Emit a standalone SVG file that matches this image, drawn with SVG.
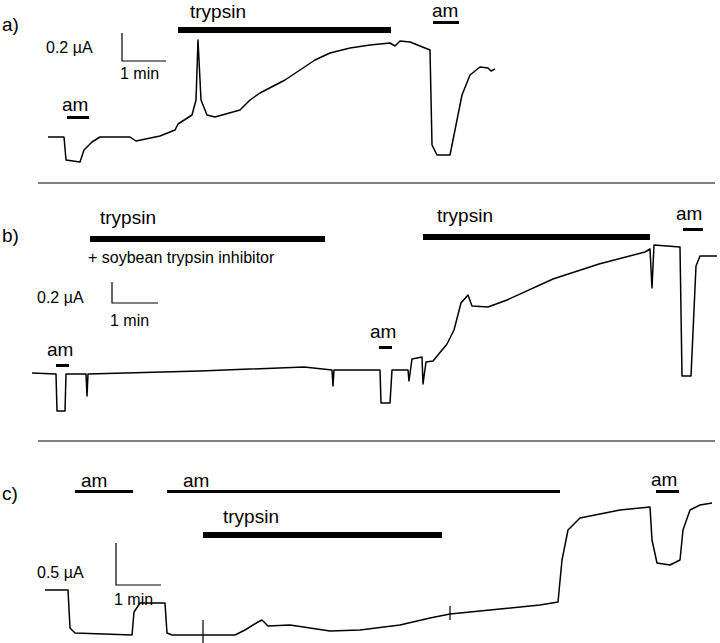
<svg xmlns="http://www.w3.org/2000/svg" width="720" height="643" viewBox="0 0 720 643">
<style>
text{font-family:"Liberation Sans",Arial,sans-serif;fill:#000}
.lab{font-size:19px}
.sc{font-size:16px}
.tr{fill:none;stroke:#000;stroke-width:1.5;stroke-linejoin:round}
.ln{stroke:#000;stroke-width:1.2}
</style>
<rect width="720" height="643" fill="#fff"/>
<g id="panel-a">
<text class="lab" x="2" y="31">a)</text>
<text class="lab" x="190" y="18">trypsin</text>
<rect x="178" y="27" width="213" height="6"/>
<text class="lab" x="432" y="17">am</text>
<rect x="433" y="21" width="26" height="3"/>
<text class="sc" x="46" y="53">0.2 µA</text>
<path class="ln" d="M122 33V61H166" fill="none"/>
<text class="sc" x="120" y="79">1 min</text>
<text class="lab" x="62" y="111">am</text>
<rect x="67" y="116" width="22" height="3"/>
<path class="tr" d="M48 137L64 137L66 160L80 162L84 150L92 142L100 137L130 137L136 141L160 136L175 130L178 124L192 115L196 100L198 40L201 100L207 115L215 117L240 110L250 100L260 93L285 80L300 70L315 60L330 53L350 48L370 45L390 43L395 46L400 41L410 42L430 50L432 145L437 155L450 155L455 130L462 95L470 75L480 67L488 68L491 71L495 69"/>
</g>
<line class="ln" x1="38" y1="183" x2="715" y2="183"/>
<g id="panel-b">
<text class="lab" x="2" y="242">b)</text>
<text class="lab" x="100" y="224">trypsin</text>
<rect x="90" y="236" width="235" height="6"/>
<text class="sc" x="88" y="263">+ soybean trypsin inhibitor</text>
<text class="lab" x="437" y="222">trypsin</text>
<rect x="423" y="234" width="227" height="6"/>
<text class="lab" x="676" y="220">am</text>
<rect x="683" y="228" width="20" height="3"/>
<text class="sc" x="37" y="303">0.2 µA</text>
<path class="ln" d="M112 282V303H158" fill="none"/>
<text class="sc" x="110" y="326">1 min</text>
<text class="lab" x="47" y="356">am</text>
<rect x="56" y="364" width="13" height="3"/>
<text class="lab" x="370" y="338">am</text>
<rect x="379" y="346" width="13" height="3"/>
<path class="tr" d="M32 373L56 374L57 411L65 411L66 374L86 374L87 396L88 374L200 371L304 367L332 370L333 386L334 370L380 370L381 403L390 403L392 370L408 370L409 381L412 359L422 357L423 384L426 362L433 361L447 344L454 330L461 303L468 295L472 306L488 307L507 300L553 279L599 264L645 252L650 249L652 288L654 245L680 247L682 376L691 376L696 266L700 256L717 256"/>
</g>
<line class="ln" x1="38" y1="441" x2="715" y2="441"/>
<g id="panel-c">
<text class="lab" x="2" y="500">c)</text>
<text class="lab" x="81" y="487">am</text>
<rect x="75" y="490" width="58" height="3"/>
<text class="lab" x="183" y="487">am</text>
<rect x="167" y="490" width="393" height="3"/>
<text class="lab" x="651" y="486">am</text>
<rect x="656" y="490" width="23" height="3"/>
<text class="lab" x="223" y="523">trypsin</text>
<rect x="203" y="532" width="239" height="6"/>
<text class="sc" x="37" y="578">0.5 µA</text>
<path class="ln" d="M116 543V585H161" fill="none"/>
<text class="sc" x="114" y="605">1 min</text>
<path class="tr" d="M45 590L68 590L70 628L75 633L132 635L134 612L140 603L165 603L167 633L172 635L235 635L245 630L258 622L262 620L268 626L290 625L330 631L360 630L400 625L430 618L450 614L500 609L540 605L558 602L562 560L568 530L580 518L620 510L650 507L652 540L657 563L670 565L680 560L683 530L690 510L700 505L712 503"/>
<path class="ln" d="M203 620V645M450 606V620"/>
</g>
</svg>
